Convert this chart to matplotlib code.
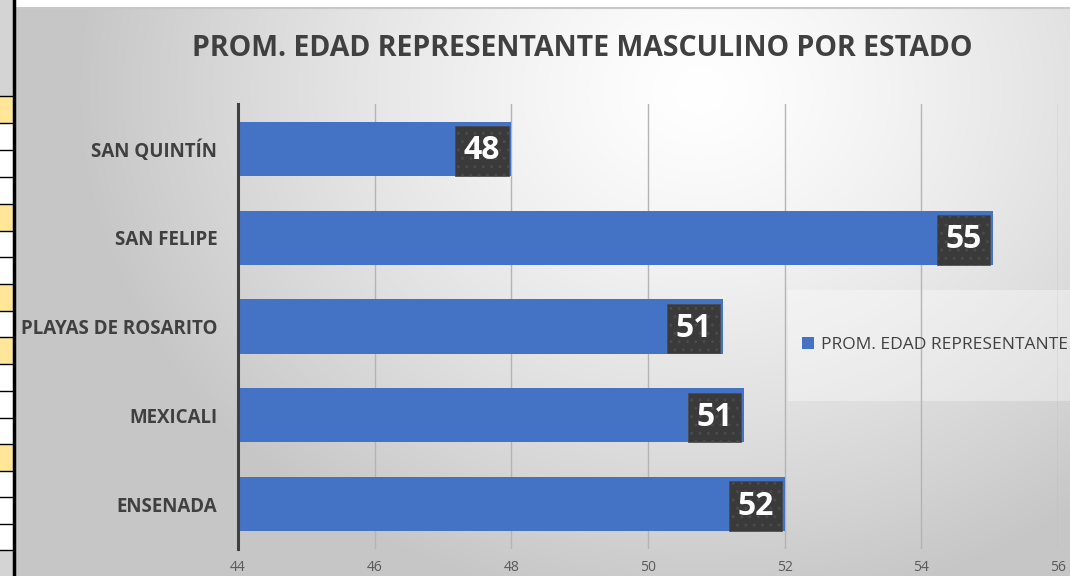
import numpy as np
import matplotlib
matplotlib.use("Agg")
import matplotlib.pyplot as plt
from matplotlib.patches import Rectangle

# data (bottom to top)
categories = ["ENSENADA", "MEXICALI", "PLAYAS DE ROSARITO", "SAN FELIPE", "SAN QUINTÍN"]
edad_prom = [52.0, 51.4, 51.1, 55.05, 48.0]
x_ticks = [44, 46, 48, 50, 52, 54, 56]
title = "PROM. EDAD REPRESENTANTE MASCULINO POR ESTADO"
legend_label = "PROM. EDAD REPRESENTANTE"

txt_font = "Open Sans"
dark = "#404040"
bar_color = "#4472C4"

W, H = 1070, 576
fig = plt.figure(figsize=(W / 100, H / 100), dpi=100)

# background layer in pixel coords
bg = fig.add_axes([0, 0, 1, 1], zorder=-5)
bg.set_xlim(0, W)
bg.set_ylim(H, 0)
bg.axis("off")

# radial gradient of the chart area
yy, xx = np.mgrid[8:H, 16:W]
r = np.sqrt(((xx - 700) / 620.0) ** 2 + ((yy - 90) / 520.0) ** 2)
v = 1.0 - 0.22 * np.clip(r, 0, 1) ** 1.3
bg.imshow(np.dstack([v, v, v]), extent=(16, W, H, 8), aspect="auto", zorder=0)
bg.plot([16, W], [7.5, 7.5], color="#c8c8c8", lw=1.5, zorder=1)

# spreadsheet strip on the left
bg.add_patch(Rectangle((0, 0), 13, 96, fc="#d4d4d4", ec="none"))
bg.add_patch(Rectangle((0, 550), 13, 26, fc="#d4d4d4", ec="none"))
rows = [96, 123, 150, 177, 204, 231, 257, 284, 311, 337, 364, 391, 418, 444, 471, 497, 524, 550]
yellow = [96, 204, 284, 337, 444]
for y0, y1 in zip(rows[:-1], rows[1:]):
    if y0 in yellow:
        bg.add_patch(Rectangle((0, y0), 13, y1 - y0, fc="#FFE699", ec="none"))
for y0 in rows:
    bg.plot([0, 13], [y0, y0], color="black", lw=1)
bg.plot([14, 14], [0, H], color="black", lw=2.5)

# legend panel
bg.add_patch(Rectangle((788, 290), W - 788, 111, fc="white", alpha=0.35, ec="none", zorder=2))

# main chart
ax = fig.add_axes([238 / W, 1 - 548.5 / H, 820 / W, 444 / H])
ax.set_facecolor("none")
ypos = np.arange(len(categories))
bars = ax.barh(ypos, edad_prom, left=0, height=0.61, color=bar_color, zorder=3,
               label=legend_label)
ax.set_xlim(44, 56)
ax.set_ylim(-0.5, 4.5)
ax.set_xticks(x_ticks)
ax.set_xticklabels([str(t) for t in x_ticks], fontsize=10, color="#595959", family=txt_font)
ax.set_yticks(ypos)
ax.set_yticklabels(categories, fontsize=13.5, fontweight="bold", color=dark, family=txt_font)
ax.tick_params(axis="both", length=0)
ax.tick_params(axis="y", pad=15)
ax.tick_params(axis="x", pad=8)
ax.grid(axis="x", color="#b4b4b4", lw=1, zorder=1)
for s in ["top", "right", "bottom"]:
    ax.spines[s].set_visible(False)
ax.spines["left"].set_color(dark)
ax.spines["left"].set_linewidth(2.2)
ax.spines["left"].set_zorder(4)

# value labels
for i, val in enumerate(edad_prom):
    ax.annotate(str(int(round(val))), xy=(val, i), xytext=(-8, -1.5), textcoords="offset points",
                ha="right", va="center", color="white", fontsize=23, fontweight="bold",
                family=txt_font, zorder=5,
                bbox=dict(boxstyle="square,pad=0.26", fc="#3a3a3a", ec="#4a4a4a", lw=0.5, hatch=".."))

fig.text(582 / W, 1 - 48 / H, title, ha="center", va="center", fontsize=20.5,
         fontweight="bold", color=dark, family=txt_font)

leg = fig.legend(handles=[bars], labels=[legend_label], loc="center left",
                 bbox_to_anchor=(786 / W, 1 - 345 / H), frameon=False, handlelength=0.7,
                 handleheight=0.7, handletextpad=0.4, prop={"family": txt_font, "size": 12.5})
for t in leg.get_texts():
    t.set_color(dark)

fig.savefig("out.png", dpi=100)
